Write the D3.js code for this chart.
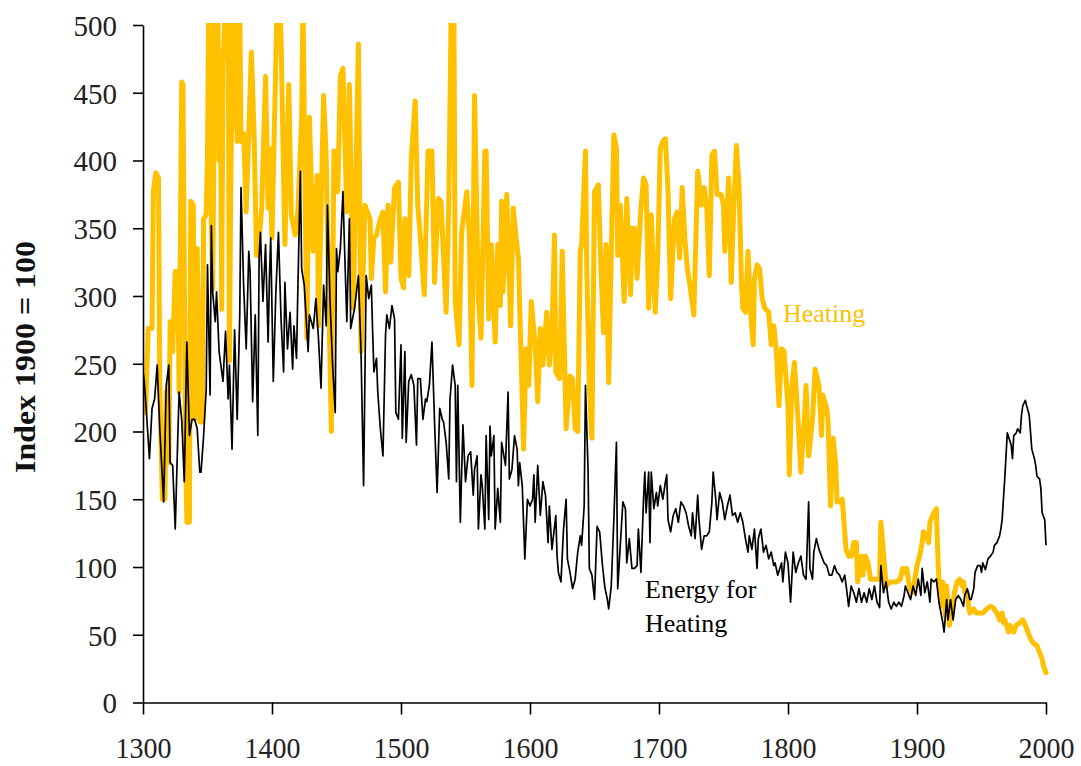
<!DOCTYPE html>
<html><head><meta charset="utf-8">
<script src="https://cdn.jsdelivr.net/npm/d3@7"></script>
<style>body{margin:0;background:#fff;} svg{display:block;}</style>
</head><body>
<svg id="chart" width="1081" height="766"></svg>
<script>
// Heating index (yellow), [year, value]
const heating = [
[1300,221],[1302,214],[1304,276],[1307,276],[1308,377],[1310,391],[1312,387],[1313,234],[1315,150],[1317,150],
[1318,229],[1320,177],[1321,281],[1323,259],[1325,318],[1327,318],[1328,229],[1330,458],[1331,456],[1333,185],
[1334,133],[1336,133],[1337,370],[1339,367],[1340,209],[1341,335],[1342,335],[1344,207],[1346,207],[1347,357],
[1349,360],[1350,405],[1351,520],[1352,520],[1353,357],[1354,305],[1356,520],[1358,520],[1359,400],[1360,470],
[1361,290],[1362,470],[1364,520],[1366,520],[1367,252],[1368,380],[1370,520],[1371,425],[1372,520],[1373,414],
[1375,520],[1376,414],[1378,420],[1380,362],[1382,420],[1384,480],[1386,424],[1388,330],[1389,330],[1392,365],
[1395,462],[1397,365],[1398,409],[1400,343],[1404,520],[1406,520],[1407,490],[1410,338],[1413,456],[1415,360],
[1418,345],[1420,362],[1423,431],[1424,520],[1427,269],[1429,432],[1432,333],[1435,389],[1436,278],[1440,448],
[1442,402],[1446,200],[1448,407],[1451,377],[1453,462],[1455,468],[1458,362],[1460,456],[1463,291],[1467,486],
[1469,259],[1472,367],[1476,357],[1477,313],[1479,343],[1481,345],[1484,357],[1486,362],[1488,303],[1490,367],
[1492,325],[1495,380],[1498,384],[1500,313],[1502,306],[1503,357],[1506,315],[1508,402],[1511,444],[1513,367],
[1515,343],[1518,301],[1521,407],[1524,407],[1526,310],[1529,372],[1531,370],[1535,288],[1537,365],[1539,520],
[1541,520],[1542,296],[1545,264],[1547,347],[1551,377],[1553,343],[1555,234],[1557,448],[1560,298],[1562,269],
[1565,407],[1566,407],[1568,283],[1570,338],[1573,266],[1575,338],[1577,293],[1578,370],[1579,303],[1582,375],
[1585,278],[1587,365],[1589,345],[1591,328],[1593,259],[1595,187],[1597,261],[1599,234],[1601,296],[1604,264],
[1606,222],[1608,276],[1610,249],[1613,288],[1615,249],[1617,271],[1619,345],[1620,244],[1623,239],[1625,333],
[1628,202],[1631,241],[1633,239],[1635,202],[1637,200],[1639,333],[1640,338],[1643,407],[1644,320],[1646,234],
[1648,195],[1650,377],[1653,382],[1655,320],[1657,273],[1659,338],[1661,236],[1663,333],[1665,419],[1667,409],
[1668,330],[1670,367],[1673,296],[1675,372],[1678,301],[1679,350],[1681,350],[1683,313],[1686,365],[1688,387],
[1690,382],[1692,291],[1694,360],[1697,288],[1699,328],[1701,409],[1703,414],[1705,416],[1707,377],[1709,298],
[1712,357],[1714,362],[1716,328],[1718,380],[1720,343],[1722,320],[1724,308],[1727,286],[1730,392],[1733,367],
[1735,380],[1737,365],[1739,315],[1741,404],[1743,407],[1745,375],[1748,375],[1750,367],[1751,333],[1754,387],
[1756,310],[1758,367],[1760,411],[1762,382],[1764,308],[1765,291],[1767,288],[1769,333],[1771,288],[1773,264],
[1774,313],[1776,323],[1778,320],[1780,298],[1782,291],[1785,288],[1787,264],[1789,278],[1791,259],[1793,219],
[1795,261],[1797,259],[1800,219],[1801,168],[1803,234],[1805,251],[1808,205],[1810,170],[1813,214],[1814,234],
[1816,182],[1819,209],[1821,246],[1824,234],[1826,197],[1827,227],[1830,217],[1831,209],[1833,145],[1835,195],
[1837,175],[1838,148],[1840,148],[1842,150],[1843,138],[1845,113],[1847,108],[1849,108],[1851,118],[1853,118],
[1854,89],[1857,108],[1858,94],[1860,108],[1862,103],[1864,91],[1866,91],[1869,91],[1871,91],[1872,133],
[1874,111],[1876,86],[1879,89],[1882,89],[1884,89],[1887,91],[1889,99],[1891,96],[1892,99],[1894,86],
[1896,81],[1898,89],[1900,101],[1902,108],[1904,118],[1905,126],[1907,123],[1909,118],[1910,133],[1913,140],
[1915,143],[1916,113],[1917,89],[1919,71],[1920,89],[1922,64],[1923,86],[1925,57],[1927,66],[1929,81],
[1931,89],[1933,91],[1935,86],[1936,89],[1937,81],[1939,81],[1940,71],[1941,66],[1944,69],[1946,66],
[1949,66],[1951,66],[1954,69],[1957,71],[1959,70],[1962,66],[1964,61],[1966,66],[1967,59],[1968,61],
[1971,52],[1972,57],[1975,52],[1977,57],[1980,59],[1982,61],[1984,57],[1986,52],[1988,47],[1990,44],
[1993,42],[1995,37],[1997,32],[1998,27],[2000,22]
];

// Energy for heating index (black), [year, value]
const energyForHeating = [
[1300,244],[1301,237],[1303,209],[1305,180],[1307,217],[1309,224],[1311,249],[1313,202],[1316,148],[1318,234],
[1320,249],[1321,177],[1323,175],[1325,128],[1327,197],[1328,229],[1330,209],[1332,163],[1334,266],[1336,197],
[1338,209],[1340,209],[1342,202],[1344,170],[1345,170],[1347,197],[1349,231],[1350,323],[1352,227],[1353,352],
[1354,303],[1356,281],[1357,303],[1359,259],[1362,237],[1364,274],[1366,224],[1367,249],[1369,187],[1371,275],
[1373,209],[1375,286],[1376,380],[1378,308],[1380,261],[1382,333],[1383,318],[1385,222],[1387,286],[1389,197],
[1390,328],[1391,347],[1393,296],[1395,338],[1397,266],[1398,313],[1399,343],[1401,237],[1403,303],[1405,347],
[1407,283],[1409,244],[1410,310],[1412,261],[1414,288],[1416,246],[1417,278],[1419,254],[1420,303],[1422,392],
[1423,320],[1425,308],[1428,259],[1429,286],[1432,276],[1434,298],[1436,269],[1438,232],[1440,308],[1442,278],
[1443,367],[1445,296],[1447,249],[1449,214],[1450,335],[1451,318],[1453,335],[1455,377],[1456,343],[1458,281],
[1460,357],[1461,276],[1464,291],[1467,315],[1469,259],[1471,160],[1473,315],[1475,298],[1477,308],[1478,274],
[1479,244],[1481,254],[1482,229],[1484,202],[1486,182],[1488,271],[1489,286],[1491,276],[1493,293],[1495,283],
[1496,214],[1498,209],[1500,264],[1501,195],[1503,259],[1504,192],[1506,237],[1508,242],[1510,234],[1512,190],
[1513,239],[1515,239],[1517,209],[1519,224],[1520,222],[1522,234],[1524,266],[1526,207],[1528,155],[1530,217],
[1532,209],[1533,207],[1535,192],[1537,165],[1538,224],[1540,249],[1542,234],[1543,163],[1544,234],[1546,133],
[1548,205],[1550,163],[1552,182],[1554,185],[1556,153],[1557,172],[1559,182],[1560,128],[1562,168],[1563,160],
[1565,128],[1566,197],[1568,135],[1569,204],[1570,182],[1572,197],[1573,128],[1575,158],[1577,133],[1578,192],
[1581,175],[1583,229],[1584,165],[1586,172],[1588,197],[1590,187],[1591,160],[1592,177],[1594,160],[1596,106],
[1598,150],[1600,145],[1602,150],[1603,168],[1604,133],[1606,175],[1608,138],[1610,163],[1612,153],[1614,118],
[1615,145],[1617,113],[1620,138],[1621,108],[1622,96],[1624,89],[1626,128],[1628,150],[1629,106],[1631,96],
[1633,84],[1635,91],[1637,111],[1639,123],[1640,116],[1642,145],[1643,234],[1645,172],[1646,99],[1648,94],
[1650,76],[1652,130],[1654,126],[1656,103],[1658,85],[1660,76],[1661,69],[1663,86],[1665,135],[1667,192],
[1668,84],[1670,116],[1672,148],[1674,143],[1675,103],[1677,121],[1679,99],[1681,99],[1683,101],[1684,128],
[1686,96],[1688,150],[1689,170],[1690,140],[1692,170],[1693,118],[1694,170],[1696,143],[1698,155],[1699,145],
[1701,160],[1703,150],[1705,163],[1706,168],[1707,135],[1709,126],[1711,138],[1713,143],[1715,133],[1717,148],
[1719,145],[1721,140],[1723,130],[1725,123],[1726,140],[1728,121],[1730,153],[1731,135],[1733,113],[1735,123],
[1737,123],[1739,126],[1741,148],[1742,170],[1744,150],[1745,135],[1747,155],[1749,148],[1751,135],[1753,145],
[1755,153],[1757,138],[1759,140],[1761,133],[1763,140],[1765,133],[1767,121],[1769,111],[1770,123],[1772,113],
[1774,128],[1776,99],[1777,121],[1779,128],[1781,111],[1783,116],[1785,106],[1787,111],[1789,101],[1790,103],
[1792,94],[1795,103],[1796,89],[1798,111],[1800,103],[1802,74],[1804,111],[1806,96],[1808,103],[1810,108],
[1812,94],[1814,91],[1816,148],[1817,99],[1819,91],[1820,111],[1822,121],[1824,113],[1826,108],[1828,103],
[1830,101],[1832,94],[1834,94],[1836,101],[1838,96],[1840,94],[1842,89],[1844,94],[1846,79],[1847,71],
[1849,86],[1851,81],[1853,74],[1855,84],[1857,74],[1859,81],[1861,74],[1863,84],[1865,76],[1867,86],
[1869,74],[1871,70],[1872,101],[1874,81],[1876,89],[1878,74],[1880,69],[1882,74],[1884,71],[1886,74],
[1888,71],[1890,79],[1891,86],[1893,81],[1895,76],[1897,86],[1899,79],[1901,91],[1903,79],[1904,99],
[1906,81],[1908,89],[1910,74],[1911,91],[1913,89],[1915,91],[1917,74],[1918,69],[1920,59],[1921,52],
[1923,76],[1924,61],[1926,76],[1928,61],[1930,76],[1932,79],[1934,76],[1936,71],[1937,79],[1939,84],
[1941,76],[1942,76],[1944,84],[1945,96],[1947,101],[1949,101],[1950,96],[1951,103],[1953,98],[1955,106],
[1957,108],[1959,111],[1960,116],[1962,118],[1964,123],[1965,128],[1966,135],[1968,165],[1969,182],[1970,199],
[1971,196],[1973,190],[1974,180],[1975,197],[1977,199],[1978,202],[1980,199],[1981,212],[1982,219],[1984,223],
[1985,219],[1987,212],[1989,187],[1991,180],[1992,175],[1993,167],[1995,165],[1996,158],[1997,140],[1999,135],
[2000,116]
];

const xTickValues = [1300, 1400, 1500, 1600, 1700, 1800, 1900, 2000];
const yTickValues = [0, 50, 100, 150, 200, 250, 300, 350, 400, 450, 500];
const axisTitle = "Index 1900 = 100";
const heatingLabel = ["Heating"];
const energyLabel = ["Energy for", "Heating"];

const FONT = "'Liberation Serif', 'Times New Roman', serif";
const svg = d3.select("#chart");

const x = d3.scaleLinear().domain([1300, 2000]).range([143, 1046]);
const y = d3.scaleLinear().domain([0, 500]).range([702.5, 25]);

svg.append("defs").append("clipPath").attr("id", "plotclip")
  .append("rect").attr("x", 143).attr("y", 23).attr("width", 915).attr("height", 680);

const line = d3.line().x(d => x(d[0])).y(d => y(d[1]));

const plot = svg.append("g").attr("clip-path", "url(#plotclip)");
plot.append("path").datum(heating)
  .attr("d", line).attr("fill", "none")
  .attr("stroke", "#FFC000").attr("stroke-width", 5)
  .attr("stroke-linejoin", "round").attr("stroke-linecap", "round");
plot.append("path").datum(energyForHeating)
  .attr("d", line).attr("fill", "none")
  .attr("stroke", "#000").attr("stroke-width", 1.7)
  .attr("stroke-linejoin", "round");

// Y axis
const yAxis = svg.append("g").attr("transform", "translate(143,0)")
  .call(d3.axisLeft(y).tickValues(yTickValues).tickSize(10).tickPadding(16).tickSizeOuter(0));
yAxis.select(".domain").attr("stroke", "#000").attr("stroke-width", 1.6);
yAxis.selectAll(".tick line").attr("stroke", "#000").attr("stroke-width", 1.6);
yAxis.selectAll(".tick text").attr("font-family", FONT).attr("font-size", 29)
  .attr("fill", "#222").attr("dy", "0.36em");

// X axis
const xAxis = svg.append("g").attr("transform", "translate(0,702.5)")
  .call(d3.axisBottom(x).tickValues(xTickValues).tickFormat(d3.format("d")).tickSize(12).tickSizeOuter(0));
xAxis.select(".domain").attr("stroke", "#000").attr("stroke-width", 1.6);
xAxis.selectAll(".tick line").attr("stroke", "#000").attr("stroke-width", 1.6);
xAxis.selectAll(".tick text").attr("font-family", FONT).attr("font-size", 30)
  .attr("fill", "#222").attr("y", 55).attr("dy", 0)
  .attr("textLength", 56).attr("lengthAdjust", "spacingAndGlyphs");

// Axis title
svg.append("text").attr("transform", "translate(35,357) rotate(-90)")
  .attr("text-anchor", "middle").attr("font-family", FONT).attr("font-weight", "bold")
  .attr("font-size", 29).attr("fill", "#111")
  .attr("textLength", 232).attr("lengthAdjust", "spacingAndGlyphs")
  .text(axisTitle);

// Series labels
svg.append("g").selectAll("text").data(heatingLabel).join("text")
  .attr("x", 783).attr("y", 322).attr("font-family", FONT).attr("font-size", 26)
  .attr("fill", "#FFC000").text(d => d);
svg.append("g").selectAll("text").data(energyLabel).join("text")
  .attr("x", 645).attr("y", (d, i) => 598 + i * 34).attr("font-family", FONT).attr("font-size", 26)
  .attr("fill", "#000").text(d => d);
</script>
</body></html>
